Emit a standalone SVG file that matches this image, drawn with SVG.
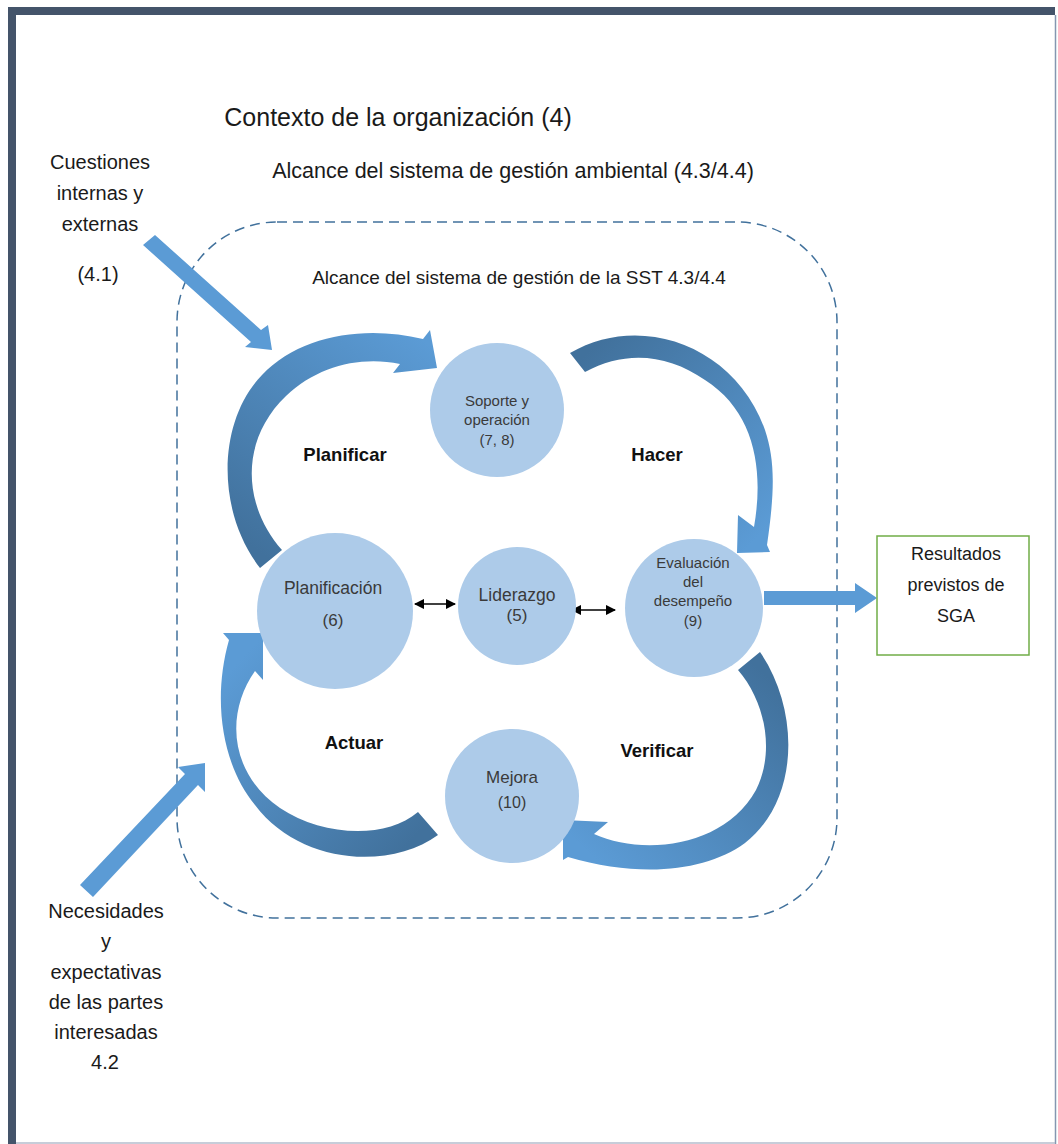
<svg xmlns="http://www.w3.org/2000/svg" width="1058" height="1144" viewBox="0 0 1058 1144">
<style>
.t{font-family:"Liberation Sans",Arial,sans-serif;fill:#1a1a1a;text-anchor:middle}
.c{font-family:"Liberation Sans",Arial,sans-serif;fill:#3a3a3a;text-anchor:middle}
.b{font-family:"Liberation Sans",Arial,sans-serif;fill:#111;font-weight:bold;text-anchor:middle;font-size:18.5px}
.circ{fill:#adcbe9}
.sa{fill:#5b9bd5}
</style>
<defs>
<linearGradient id="g1" gradientUnits="userSpaceOnUse" x1="270" y1="560" x2="430" y2="345"><stop offset="0" stop-color="#41719c"/><stop offset="1" stop-color="#5b9bd5"/></linearGradient>
<linearGradient id="g2" gradientUnits="userSpaceOnUse" x1="578" y1="362" x2="755" y2="540"><stop offset="0" stop-color="#41719c"/><stop offset="1" stop-color="#5b9bd5"/></linearGradient>
<linearGradient id="g3" gradientUnits="userSpaceOnUse" x1="750" y1="660" x2="580" y2="845"><stop offset="0" stop-color="#41719c"/><stop offset="1" stop-color="#5b9bd5"/></linearGradient>
<linearGradient id="g4" gradientUnits="userSpaceOnUse" x1="428" y1="823" x2="245" y2="655"><stop offset="0" stop-color="#41719c"/><stop offset="1" stop-color="#5b9bd5"/></linearGradient>
<marker id="ah" viewBox="0 0 10 10" refX="9" refY="5" markerWidth="7" markerHeight="7" orient="auto-start-reverse"><path d="M0,0 L10,5 L0,10 Z" fill="#000"/></marker>
</defs>
<rect x="0" y="0" width="1058" height="1144" fill="#fff"/>
<g id="frame">
<rect x="8" y="7" width="1047" height="8" fill="#44546a"/>
<rect x="8" y="7" width="8" height="1137" fill="#44546a"/>
<line x1="1055.5" y1="15" x2="1055.5" y2="1144" stroke="#8497b0" stroke-width="1.5"/>
<line x1="16" y1="1143" x2="1055" y2="1143" stroke="#b4bccc" stroke-width="1.5"/>
</g>
<g id="scope">
<rect x="177" y="222" width="660" height="696" rx="100" ry="100" fill="none" stroke="#41719c" stroke-width="1.5" stroke-dasharray="10,6"/>
</g>
<g id="titles">
<text class="t" x="398" y="126" style="font-size:25px">Contexto de la organización (4)</text>
<text class="t" x="513" y="178" style="font-size:21.5px">Alcance del sistema de gestión ambiental (4.3/4.4)</text>
<text class="t" x="519" y="284" style="font-size:19px">Alcance del sistema de gestión de la SST 4.3/4.4</text>
</g>
<g id="cuestiones">
<text class="t" x="100" y="169" style="font-size:20px">Cuestiones</text>
<text class="t" x="100" y="200" style="font-size:20px">internas y</text>
<text class="t" x="100" y="231" style="font-size:20px">externas</text>
<text class="t" x="98" y="281" style="font-size:20px">(4.1)</text>
</g>
<g id="necesidades">
<text class="t" x="106" y="918" style="font-size:20px">Necesidades</text>
<text class="t" x="106" y="948" style="font-size:20px">y</text>
<text class="t" x="106" y="979" style="font-size:20px">expectativas</text>
<text class="t" x="106" y="1009" style="font-size:20px">de las partes</text>
<text class="t" x="106" y="1039" style="font-size:20px">interesadas</text>
<text class="t" x="105" y="1069" style="font-size:20px">4.2</text>
</g>
<g id="connectors">
<path d="M260,568 L282,550 C242,505 240,440 286,396 C318,366 360,356 400,364 L393,373 L437,368 L430,330 L423,339 C365,325 300,335 262,375 C218,420 215,510 260,568 Z" fill="url(#g1)"/>
<path d="M570,353 C640,312 735,345 765,430 C775,460 775,490 767,545 L770,552 L737,553 L738,515 L754,527 C764,470 755,412 705,380 C668,354 625,350 585,372 Z" fill="url(#g2)"/>
<path d="M760,652 C800,710 800,800 745,843 C705,872 640,878 568,857 L563,860 L563,820 L608,822 L594,834 C642,856 724,848 756,790 C776,750 764,700 738,670 Z" fill="url(#g3)"/>
<path d="M438,835 C390,870 300,865 255,805 C222,765 212,700 229,640 L223,633 L263,633 L263,680 L255,671 C226,712 228,772 280,808 C322,836 385,840 418,812 Z" fill="url(#g4)"/>
<polygon class="sa" points="143,245 155,235 261,330 268,325 272,350 245,347 251,342"/>
<polygon class="sa" points="80,885 185,774 178,767 205,763 205,792 198,785 93,897"/>
<polygon class="sa" points="764,591 855,591 855,583 877,598 855,613 855,605 764,605"/>
<line x1="415" y1="604" x2="455" y2="604" stroke="#000" stroke-width="1.5" marker-start="url(#ah)" marker-end="url(#ah)"/>
<line x1="572" y1="610" x2="615" y2="610" stroke="#000" stroke-width="1.5" marker-start="url(#ah)" marker-end="url(#ah)"/>
</g>
<g id="soporte">
<circle class="circ" cx="497" cy="410" r="67"/>
<text class="c" x="497" y="406" style="font-size:15px">Soporte y</text>
<text class="c" x="497" y="425" style="font-size:15px">operación</text>
<text class="c" x="497" y="445" style="font-size:15px">(7, 8)</text>
</g>
<g id="planificacion">
<circle class="circ" cx="335" cy="611" r="78"/>
<text class="c" x="333" y="594" style="font-size:17.5px">Planificación</text>
<text class="c" x="333" y="626" style="font-size:17px">(6)</text>
</g>
<g id="liderazgo">
<circle class="circ" cx="517" cy="606" r="59"/>
<text class="c" x="517" y="601" style="font-size:17.5px">Liderazgo</text>
<text class="c" x="517" y="621" style="font-size:17px">(5)</text>
</g>
<g id="evaluacion">
<circle class="circ" cx="694" cy="608" r="69"/>
<text class="c" x="693" y="568" style="font-size:15px">Evaluación</text>
<text class="c" x="693" y="587" style="font-size:15px">del</text>
<text class="c" x="693" y="606" style="font-size:15px">desempeño</text>
<text class="c" x="693" y="626" style="font-size:15px">(9)</text>
</g>
<g id="mejora">
<circle class="circ" cx="512" cy="796" r="67"/>
<text class="c" x="512" y="783" style="font-size:17px">Mejora</text>
<text class="c" x="512" y="808" style="font-size:16px">(10)</text>
</g>
<g id="phases">
<text class="b" x="345" y="461">Planificar</text>
<text class="b" x="657" y="461">Hacer</text>
<text class="b" x="354" y="749">Actuar</text>
<text class="b" x="657" y="757">Verificar</text>
</g>
<g id="resultados">
<rect x="877" y="536" width="152" height="119" fill="#fff" stroke="#70ad47" stroke-width="1.5"/>
<text class="t" x="956" y="560" style="font-size:18px">Resultados</text>
<text class="t" x="956" y="591" style="font-size:18px">previstos de</text>
<text class="t" x="956" y="622" style="font-size:18px">SGA</text>
</g>
</svg>
